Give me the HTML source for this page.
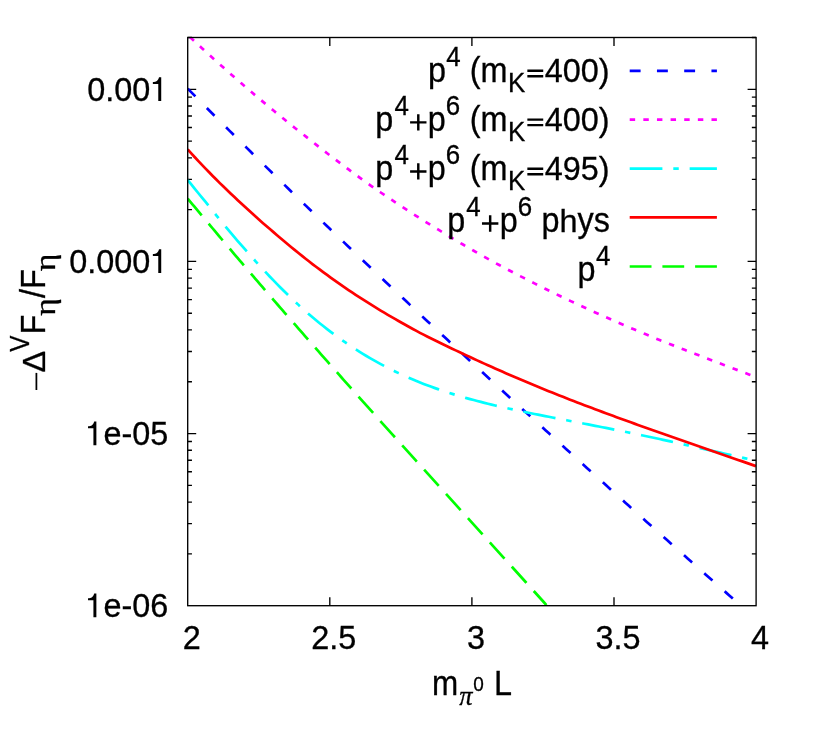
<!DOCTYPE html>
<html><head><meta charset="utf-8"><title>plot</title>
<style>html,body{margin:0;padding:0;background:#fff;}svg{display:block;will-change:transform;}text{font-family:"Liberation Sans",sans-serif;fill:#000;stroke:#000;stroke-width:0.3px;}</style></head><body>
<svg width="822" height="743" viewBox="0 0 822 743">
<defs><clipPath id="pc"><rect x="187.70" y="37.50" width="568.40" height="568.20"/></clipPath></defs>
<path d="M187.70 553.88h4.25M756.10 553.88h-4.25M187.70 523.57h4.25M756.10 523.57h-4.25M187.70 502.07h4.25M756.10 502.07h-4.25M187.70 485.39h4.25M756.10 485.39h-4.25M187.70 471.76h4.25M756.10 471.76h-4.25M187.70 460.23h4.25M756.10 460.23h-4.25M187.70 450.25h4.25M756.10 450.25h-4.25M187.70 441.45h4.25M756.10 441.45h-4.25M187.70 433.57h8.50M756.10 433.57h-8.50M187.70 381.76h4.25M756.10 381.76h-4.25M187.70 351.45h4.25M756.10 351.45h-4.25M187.70 329.94h4.25M756.10 329.94h-4.25M187.70 313.26h4.25M756.10 313.26h-4.25M187.70 299.63h4.25M756.10 299.63h-4.25M187.70 288.11h4.25M756.10 288.11h-4.25M187.70 278.12h4.25M756.10 278.12h-4.25M187.70 269.32h4.25M756.10 269.32h-4.25M187.70 261.44h8.50M756.10 261.44h-8.50M187.70 209.63h4.25M756.10 209.63h-4.25M187.70 179.32h4.25M756.10 179.32h-4.25M187.70 157.81h4.25M756.10 157.81h-4.25M187.70 141.13h4.25M756.10 141.13h-4.25M187.70 127.50h4.25M756.10 127.50h-4.25M187.70 115.98h4.25M756.10 115.98h-4.25M187.70 106.00h4.25M756.10 106.00h-4.25M187.70 97.19h4.25M756.10 97.19h-4.25M187.70 89.32h8.50M756.10 89.32h-8.50M187.70 37.50h4.25M756.10 37.50h-4.25M329.80 605.70v-8.50M329.80 37.50v8.50M471.90 605.70v-8.50M471.90 37.50v8.50M614.00 605.70v-8.50M614.00 37.50v8.50" stroke="#000" stroke-width="1.35" fill="none"/>
<g clip-path="url(#pc)" fill="none" stroke-width="2.70">
<path d="M187.70 88.58 L191.17 92.11 L194.65 95.64 L198.12 99.16 L201.59 102.68 L205.07 106.19 L208.54 109.69 L212.02 113.19 L215.49 116.68 L218.96 120.17 L222.44 123.65 L225.91 127.12 L229.38 130.59 L232.86 134.05 L236.33 137.51 L239.80 140.97 L243.28 144.41 L246.75 147.86 L250.22 151.29 L253.70 154.73 L257.17 158.15 L260.65 161.58 L264.12 164.99 L267.59 168.41 L271.07 171.82 L274.54 175.22 L278.01 178.62 L281.49 182.01 L284.96 185.40 L288.43 188.79 L291.91 192.17 L295.38 195.54 L298.85 198.92 L302.33 202.28 L305.80 205.65 L309.28 209.01 L312.75 212.36 L316.22 215.72 L319.70 219.06 L323.17 222.41 L326.64 225.75 L330.12 229.08 L333.59 232.42 L337.06 235.74 L340.54 239.07 L344.01 242.39 L347.48 245.71 L350.96 249.02 L354.43 252.33 L357.91 255.64 L361.38 258.95 L364.85 262.25 L368.33 265.54 L371.80 268.84 L375.27 272.13 L378.75 275.42 L382.22 278.70 L385.69 281.99 L389.17 285.26 L392.64 288.54 L396.12 291.81 L399.59 295.08 L403.06 298.35 L406.54 301.61 L410.01 304.88 L413.48 308.13 L416.96 311.39 L420.43 314.64 L423.90 317.89 L427.38 321.14 L430.85 324.39 L434.32 327.63 L437.80 330.87 L441.27 334.11 L444.75 337.34 L448.22 340.58 L451.69 343.81 L455.17 347.03 L458.64 350.26 L462.11 353.48 L465.59 356.70 L469.06 359.92 L472.53 363.14 L476.01 366.35 L479.48 369.57 L482.95 372.78 L486.43 375.98 L489.90 379.19 L493.38 382.39 L496.85 385.59 L500.32 388.79 L503.80 391.99 L507.27 395.18 L510.74 398.38 L514.22 401.57 L517.69 404.76 L521.16 407.94 L524.64 411.13 L528.11 414.31 L531.58 417.49 L535.06 420.67 L538.53 423.85 L542.01 427.03 L545.48 430.20 L548.95 433.37 L552.43 436.54 L555.90 439.71 L559.37 442.87 L562.85 446.04 L566.32 449.20 L569.79 452.36 L573.27 455.52 L576.74 458.67 L580.22 461.83 L583.69 464.98 L587.16 468.13 L590.64 471.28 L594.11 474.43 L597.58 477.58 L601.06 480.72 L604.53 483.86 L608.00 487.00 L611.48 490.14 L614.95 493.28 L618.42 496.41 L621.90 499.54 L625.37 502.68 L628.85 505.80 L632.32 508.93 L635.79 512.06 L639.27 515.18 L642.74 518.30 L646.21 521.42 L649.69 524.54 L653.16 527.66 L656.63 530.77 L660.11 533.88 L663.58 536.99 L667.05 540.10 L670.53 543.21 L674.00 546.31 L677.48 549.41 L680.95 552.51 L684.42 555.61 L687.90 558.71 L691.37 561.80 L694.84 564.90 L698.32 567.99 L701.79 571.07 L705.26 574.16 L708.74 577.24 L712.21 580.33 L715.68 583.40 L719.16 586.48 L722.63 589.56 L726.11 592.63 L729.58 595.70 L733.05 598.77 L736.53 601.83 L740.00 604.90" stroke="#0000ff" stroke-dasharray="10.90,16.35"/>
<path d="M187.70 34.98 L191.27 38.31 L194.85 41.63 L198.42 44.93 L202.00 48.21 L205.57 51.48 L209.15 54.73 L212.72 57.97 L216.30 61.19 L219.87 64.40 L223.45 67.59 L227.02 70.76 L230.60 73.92 L234.17 77.07 L237.75 80.20 L241.32 83.31 L244.90 86.40 L248.47 89.48 L252.05 92.55 L255.62 95.59 L259.20 98.61 L262.77 101.62 L266.35 104.61 L269.92 107.58 L273.50 110.54 L277.07 113.48 L280.65 116.41 L284.22 119.32 L287.80 122.21 L291.37 125.09 L294.95 127.95 L298.52 130.79 L302.09 133.62 L305.67 136.43 L309.24 139.27 L312.82 142.09 L316.39 144.90 L319.97 147.69 L323.54 150.47 L327.12 153.22 L330.69 155.97 L334.27 158.69 L337.84 161.40 L341.42 164.10 L344.99 166.77 L348.57 169.44 L352.14 172.09 L355.72 174.72 L359.29 177.33 L362.87 179.93 L366.44 182.51 L370.02 185.08 L373.59 187.59 L377.17 190.05 L380.74 192.50 L384.32 194.93 L387.89 197.34 L391.47 199.74 L395.04 202.12 L398.62 204.49 L402.19 206.83 L405.77 209.17 L409.34 211.48 L412.92 213.79 L416.49 216.07 L420.06 218.34 L423.64 220.60 L427.21 222.84 L430.79 225.06 L434.36 227.27 L437.94 229.46 L441.51 231.65 L445.09 233.83 L448.66 236.00 L452.24 238.15 L455.81 240.29 L459.39 242.42 L462.96 244.53 L466.54 246.62 L470.11 248.70 L473.69 250.77 L477.26 252.82 L480.84 254.85 L484.41 256.88 L487.99 258.88 L491.56 260.88 L495.14 262.86 L498.71 264.80 L502.29 266.72 L505.86 268.62 L509.44 270.51 L513.01 272.38 L516.59 274.24 L520.16 276.09 L523.74 277.92 L527.31 279.74 L530.88 281.55 L534.46 283.36 L538.03 285.17 L541.61 286.96 L545.18 288.74 L548.76 290.50 L552.33 292.26 L555.91 294.00 L559.48 295.73 L563.06 297.45 L566.63 299.15 L570.21 300.85 L573.78 302.53 L577.36 304.21 L580.93 305.87 L584.51 307.52 L588.08 309.16 L591.66 310.79 L595.23 312.41 L598.81 314.02 L602.38 315.62 L605.96 317.20 L609.53 318.78 L613.11 320.36 L616.68 321.92 L620.26 323.47 L623.83 325.01 L627.41 326.55 L630.98 328.07 L634.56 329.59 L638.13 331.10 L641.71 332.60 L645.28 334.09 L648.85 335.58 L652.43 337.06 L656.00 338.53 L659.58 339.97 L663.15 341.39 L666.73 342.81 L670.30 344.23 L673.88 345.63 L677.45 347.03 L681.03 348.43 L684.60 349.82 L688.18 351.20 L691.75 352.58 L695.33 353.95 L698.90 355.32 L702.48 356.68 L706.05 358.04 L709.63 359.42 L713.20 360.80 L716.78 362.17 L720.35 363.54 L723.93 364.91 L727.50 366.28 L731.08 367.64 L734.65 369.00 L738.23 370.35 L741.80 371.71 L745.38 373.06 L748.95 374.41 L752.53 375.76 L756.10 377.11" stroke="#ff00ff" stroke-dasharray="5.45,8.18" stroke-dashoffset="10.56"/>
<path d="M187.70 180.04 L191.27 184.47 L194.85 188.88 L198.42 193.27 L202.00 197.62 L205.57 201.95 L209.15 206.42 L212.72 210.88 L216.30 215.30 L219.87 219.69 L223.45 224.03 L227.02 228.34 L230.60 232.61 L234.17 236.83 L237.75 241.01 L241.32 245.15 L244.90 249.23 L248.47 253.27 L252.05 257.29 L255.62 261.28 L259.20 265.21 L262.77 269.09 L266.35 272.92 L269.92 276.70 L273.50 280.42 L277.07 284.09 L280.65 287.70 L284.22 291.25 L287.80 294.75 L291.37 298.18 L294.95 301.56 L298.52 304.88 L302.09 308.14 L305.67 311.35 L309.24 314.49 L312.82 317.54 L316.39 320.51 L319.97 323.43 L323.54 326.29 L327.12 329.09 L330.69 331.83 L334.27 334.51 L337.84 337.12 L341.42 339.68 L344.99 342.18 L348.57 344.63 L352.14 347.01 L355.72 349.35 L359.29 351.62 L362.87 353.83 L366.44 355.98 L370.02 358.08 L373.59 360.13 L377.17 362.13 L380.74 364.07 L384.32 365.98 L387.89 367.84 L391.47 369.66 L395.04 371.42 L398.62 373.14 L402.19 374.80 L405.77 376.43 L409.34 378.01 L412.92 379.54 L416.49 381.03 L420.06 382.48 L423.64 383.89 L427.21 385.26 L430.79 386.58 L434.36 387.88 L437.94 389.13 L441.51 390.35 L445.09 391.55 L448.66 392.72 L452.24 393.85 L455.81 394.95 L459.39 396.03 L462.96 397.07 L466.54 398.09 L470.11 399.09 L473.69 400.06 L477.26 401.01 L480.84 401.93 L484.41 402.84 L487.99 403.73 L491.56 404.60 L495.14 405.45 L498.71 406.28 L502.29 407.10 L505.86 407.91 L509.44 408.70 L513.01 409.48 L516.59 410.25 L520.16 411.01 L523.74 411.76 L527.31 412.50 L530.88 413.23 L534.46 413.96 L538.03 414.67 L541.61 415.39 L545.18 416.09 L548.76 416.80 L552.33 417.50 L555.91 418.19 L559.48 418.89 L563.06 419.58 L566.63 420.27 L570.21 420.96 L573.78 421.65 L577.36 422.34 L580.93 423.04 L584.51 423.73 L588.08 424.42 L591.66 425.12 L595.23 425.82 L598.81 426.52 L602.38 427.22 L605.96 427.93 L609.53 428.64 L613.11 429.36 L616.68 430.07 L620.26 430.80 L623.83 431.52 L627.41 432.26 L630.98 432.99 L634.56 433.73 L638.13 434.48 L641.71 435.23 L645.28 435.98 L648.85 436.74 L652.43 437.51 L656.00 438.28 L659.58 439.05 L663.15 439.83 L666.73 440.61 L670.30 441.40 L673.88 442.19 L677.45 442.98 L681.03 443.78 L684.60 444.58 L688.18 445.38 L691.75 446.19 L695.33 447.00 L698.90 447.81 L702.48 448.62 L706.05 449.43 L709.63 450.25 L713.20 451.06 L716.78 451.88 L720.35 452.69 L723.93 453.50 L727.50 454.31 L731.08 455.12 L734.65 455.92 L738.23 456.73 L741.80 457.52 L745.38 458.31 L748.95 459.10 L752.53 459.88 L756.10 460.65" stroke="#00ffff" stroke-dasharray="32.70,10.90,5.45,10.90"/>
<path d="M187.70 149.44 L191.27 153.35 L194.85 157.23 L198.42 161.06 L201.99 164.84 L205.57 168.59 L209.14 172.29 L212.72 175.95 L216.29 179.55 L219.86 183.09 L223.44 186.58 L227.01 190.04 L230.58 193.45 L234.16 196.83 L237.73 200.17 L241.30 203.49 L244.88 206.82 L248.45 210.11 L252.02 213.36 L255.60 216.58 L259.17 219.76 L262.75 222.91 L266.32 226.02 L269.89 229.10 L273.47 232.14 L277.04 235.19 L280.61 238.25 L284.19 241.27 L287.76 244.26 L291.33 247.22 L294.91 250.15 L298.48 253.04 L302.05 255.90 L305.63 258.74 L309.20 261.54 L312.78 264.31 L316.35 267.03 L319.92 269.70 L323.50 272.34 L327.07 274.96 L330.64 277.55 L334.22 280.11 L337.79 282.64 L341.36 285.15 L344.94 287.63 L348.51 290.07 L352.08 292.45 L355.66 294.80 L359.23 297.12 L362.81 299.42 L366.38 301.70 L369.95 303.95 L373.53 306.17 L377.10 308.38 L380.67 310.56 L384.25 312.70 L387.82 314.81 L391.39 316.89 L394.97 318.95 L398.54 321.00 L402.12 323.02 L405.69 325.02 L409.26 327.00 L412.84 328.96 L416.41 330.90 L419.98 332.82 L423.56 334.65 L427.13 336.47 L430.70 338.27 L434.28 340.05 L437.85 341.81 L441.42 343.56 L445.00 345.29 L448.57 347.00 L452.15 348.69 L455.72 350.37 L459.29 352.03 L462.87 353.69 L466.44 355.38 L470.01 357.06 L473.59 358.72 L477.16 360.36 L480.73 361.99 L484.31 363.61 L487.88 365.21 L491.45 366.80 L495.03 368.40 L498.60 370.00 L502.18 371.59 L505.75 373.16 L509.32 374.72 L512.90 376.27 L516.47 377.81 L520.04 379.33 L523.62 380.85 L527.19 382.35 L530.76 383.85 L534.34 385.33 L537.91 386.80 L541.48 388.27 L545.06 389.72 L548.63 391.17 L552.21 392.60 L555.78 394.03 L559.35 395.45 L562.93 396.86 L566.50 398.26 L570.07 399.65 L573.65 401.04 L577.22 402.42 L580.79 403.79 L584.37 405.15 L587.94 406.51 L591.52 407.86 L595.09 409.20 L598.66 410.54 L602.24 411.87 L605.81 413.20 L609.38 414.52 L612.96 415.84 L616.53 417.15 L620.10 418.45 L623.68 419.75 L627.25 421.05 L630.82 422.34 L634.40 423.63 L637.97 424.91 L641.55 426.19 L645.12 427.47 L648.69 428.74 L652.27 430.01 L655.84 431.28 L659.41 432.54 L662.99 433.80 L666.56 435.06 L670.13 436.31 L673.71 437.56 L677.28 438.82 L680.85 440.06 L684.43 441.31 L688.00 442.56 L691.58 443.80 L695.15 445.04 L698.72 446.29 L702.30 447.53 L705.87 448.77 L709.44 450.00 L713.02 451.24 L716.59 452.48 L720.16 453.72 L723.74 454.96 L727.31 456.19 L730.88 457.43 L734.46 458.67 L738.03 459.91 L741.61 461.14 L745.18 462.38 L748.75 463.62 L752.33 464.86 L755.90 466.10" stroke="#ff0000"/>
<path d="M187.70 198.61 L189.96 201.32 L192.21 204.02 L194.47 206.71 L196.72 209.41 L198.98 212.09 L201.24 214.78 L203.49 217.46 L205.75 220.14 L208.00 222.85 L210.26 225.55 L212.52 228.25 L214.77 230.94 L217.03 233.63 L219.28 236.32 L221.54 239.00 L223.80 241.68 L226.05 244.35 L228.31 247.03 L230.56 249.69 L232.82 252.36 L235.08 255.02 L237.33 257.68 L239.59 260.33 L241.84 262.98 L244.10 265.63 L246.36 268.27 L248.61 270.92 L250.87 273.56 L253.12 276.19 L255.38 278.83 L257.64 281.45 L259.89 284.08 L262.15 286.71 L264.40 289.33 L266.66 291.94 L268.92 294.56 L271.17 297.17 L273.43 299.78 L275.68 302.39 L277.94 304.99 L280.19 307.59 L282.45 310.19 L284.71 312.79 L286.96 315.38 L289.22 317.97 L291.47 320.56 L293.73 323.14 L295.99 325.73 L298.24 328.31 L300.50 330.88 L302.75 333.46 L305.01 336.04 L307.27 338.62 L309.52 341.19 L311.78 343.76 L314.03 346.33 L316.29 348.90 L318.55 351.46 L320.80 354.02 L323.06 356.58 L325.31 359.14 L327.57 361.70 L329.83 364.25 L332.08 366.80 L334.34 369.36 L336.59 371.90 L338.85 374.45 L341.11 377.00 L343.36 379.54 L345.62 382.08 L347.87 384.62 L350.13 387.16 L352.39 389.70 L354.64 392.23 L356.90 394.76 L359.15 397.30 L361.41 399.83 L363.67 402.36 L365.92 404.88 L368.18 407.41 L370.43 409.94 L372.69 412.46 L374.95 414.98 L377.20 417.50 L379.46 420.02 L381.71 422.54 L383.97 425.06 L386.23 427.57 L388.48 430.09 L390.74 432.60 L392.99 435.12 L395.25 437.63 L397.51 440.14 L399.76 442.65 L402.02 445.16 L404.27 447.67 L406.53 450.17 L408.79 452.68 L411.04 455.19 L413.30 457.69 L415.55 460.20 L417.81 462.70 L420.07 465.20 L422.32 467.70 L424.58 470.20 L426.83 472.71 L429.09 475.21 L431.35 477.70 L433.60 480.20 L435.86 482.70 L438.11 485.20 L440.37 487.70 L442.63 490.19 L444.88 492.69 L447.14 495.19 L449.39 497.68 L451.65 500.18 L453.91 502.67 L456.16 505.17 L458.42 507.66 L460.67 510.16 L462.93 512.65 L465.18 515.15 L467.44 517.64 L469.70 520.14 L471.95 522.63 L474.21 525.12 L476.46 527.62 L478.72 530.11 L480.98 532.60 L483.23 535.10 L485.49 537.59 L487.74 540.09 L490.00 542.58 L492.26 545.07 L494.51 547.57 L496.77 550.06 L499.02 552.56 L501.28 555.05 L503.54 557.55 L505.79 560.04 L508.05 562.54 L510.30 565.03 L512.56 567.53 L514.82 570.03 L517.07 572.52 L519.33 575.02 L521.58 577.52 L523.84 580.02 L526.10 582.51 L528.35 585.01 L530.61 587.51 L532.86 590.01 L535.12 592.51 L537.38 595.02 L539.63 597.52 L541.89 600.02 L544.14 602.52 L546.40 605.03" stroke="#00ff00" stroke-dasharray="21.80,10.90"/>
</g>
<rect x="187.70" y="37.50" width="568.40" height="568.20" fill="none" stroke="#000" stroke-width="1.35"/>
<g fill="none" stroke-width="2.70">
<path d="M629.70 70.80H716.90" stroke="#0000ff" stroke-dasharray="10.90,16.35"/>
<path d="M629.70 119.70H716.90" stroke="#ff00ff" stroke-dasharray="5.45,8.18"/>
<path d="M629.70 168.60H716.90" stroke="#00ffff" stroke-dasharray="32.70,10.90,5.45,10.90"/>
<path d="M629.70 217.40H716.90" stroke="#ff0000"/>
<path d="M629.70 266.50H716.90" stroke="#00ff00" stroke-dasharray="21.80,10.90"/>
</g>
<g transform="translate(168.40 100.92)"><text transform="translate(-81.07 0.00) scale(1.0000 1.0500)" font-size="32.40">0.00</text><path transform="translate(-18.81 0) scale(0.03240 -0.03353)" d="M268 0V505H101V566C205 570 262 604 291 709H359V0Z" fill="#000"/></g>
<g transform="translate(168.40 273.04)"><text transform="translate(-99.09 0.00) scale(1.0000 1.0500)" font-size="32.40">0.000</text><path transform="translate(-18.81 0) scale(0.03240 -0.03353)" d="M268 0V505H101V566C205 570 262 604 291 709H359V0Z" fill="#000"/></g>
<g transform="translate(168.40 445.17)"><path transform="translate(-83.66 0) scale(0.03240 -0.03353)" d="M268 0V505H101V566C205 570 262 604 291 709H359V0Z" fill="#000"/><text transform="translate(-64.85 0.00) scale(1.0000 1.0500)" font-size="32.40">e-05</text></g>
<g transform="translate(168.40 617.30)"><path transform="translate(-83.66 0) scale(0.03240 -0.03353)" d="M268 0V505H101V566C205 570 262 604 291 709H359V0Z" fill="#000"/><text transform="translate(-64.85 0.00) scale(1.0000 1.0500)" font-size="32.40">e-06</text></g>
<g transform="translate(191.70 649.10)"><text transform="translate(-9.01 0.00) scale(1.0000 1.0500)" font-size="32.40">2</text></g>
<g transform="translate(333.80 649.10)"><text transform="translate(-22.52 0.00) scale(1.0000 1.0500)" font-size="32.40">2.5</text></g>
<g transform="translate(475.90 649.10)"><text transform="translate(-9.01 0.00) scale(1.0000 1.0500)" font-size="32.40">3</text></g>
<g transform="translate(618.00 649.10)"><text transform="translate(-22.52 0.00) scale(1.0000 1.0500)" font-size="32.40">3.5</text></g>
<g transform="translate(760.10 649.10)"><text transform="translate(-9.01 0.00) scale(1.0000 1.0500)" font-size="32.40">4</text></g>
<g transform="translate(609.60 81.90)"><text transform="translate(-181.65 0.00) scale(1.0000 1.0650)" font-size="32.40">p</text><text transform="translate(-163.33 -16.20) scale(1.0000 1.0500)" font-size="25.90">4</text><text transform="translate(-139.92 0.00) scale(1.0000 1.0650)" font-size="32.40">(m</text><text transform="translate(-101.54 10.30) scale(1.0000 1.0400)" font-size="25.90">K</text><path d="M-82.25 -11.25h15.88M-82.25 -5.75h15.88" stroke="#000" stroke-width="2.45" fill="none"/><text transform="translate(-64.85 0.00) scale(1.0000 1.0500)" font-size="32.40">400)</text></g>
<g transform="translate(609.60 130.90)"><text transform="translate(-234.30 0.00) scale(1.0000 1.0650)" font-size="32.40">p</text><text transform="translate(-215.18 -16.20) scale(1.0000 1.0500)" font-size="25.90">4</text><path d="M-199.51 -8.50h16.39M-191.31 -16.69v16.39" stroke="#000" stroke-width="2.45" fill="none"/><text transform="translate(-181.85 0.00) scale(1.0000 1.0650)" font-size="32.40">p</text><text transform="translate(-163.83 -16.20) scale(1.0000 1.0500)" font-size="25.90">6</text><text transform="translate(-139.92 0.00) scale(1.0000 1.0650)" font-size="32.40">(m</text><text transform="translate(-101.54 10.30) scale(1.0000 1.0400)" font-size="25.90">K</text><path d="M-82.25 -11.25h15.88M-82.25 -5.75h15.88" stroke="#000" stroke-width="2.45" fill="none"/><text transform="translate(-64.85 0.00) scale(1.0000 1.0500)" font-size="32.40">400)</text></g>
<g transform="translate(609.60 179.90)"><text transform="translate(-234.30 0.00) scale(1.0000 1.0650)" font-size="32.40">p</text><text transform="translate(-215.18 -16.20) scale(1.0000 1.0500)" font-size="25.90">4</text><path d="M-199.51 -8.50h16.39M-191.31 -16.69v16.39" stroke="#000" stroke-width="2.45" fill="none"/><text transform="translate(-181.85 0.00) scale(1.0000 1.0650)" font-size="32.40">p</text><text transform="translate(-163.83 -16.20) scale(1.0000 1.0500)" font-size="25.90">6</text><text transform="translate(-139.92 0.00) scale(1.0000 1.0650)" font-size="32.40">(m</text><text transform="translate(-101.54 10.30) scale(1.0000 1.0400)" font-size="25.90">K</text><path d="M-82.25 -11.25h15.88M-82.25 -5.75h15.88" stroke="#000" stroke-width="2.45" fill="none"/><text transform="translate(-64.85 0.00) scale(1.0000 1.0500)" font-size="32.40">495)</text></g>
<g transform="translate(610.00 232.00)"><text transform="translate(-162.81 0.00) scale(1.0000 1.0650)" font-size="32.40">p</text><text transform="translate(-143.69 -16.20) scale(1.0000 1.0500)" font-size="25.90">4</text><path d="M-128.02 -8.50h16.39M-119.83 -16.69v16.39" stroke="#000" stroke-width="2.45" fill="none"/><text transform="translate(-110.36 0.00) scale(1.0000 1.0650)" font-size="32.40">p</text><text transform="translate(-92.35 -16.20) scale(1.0000 1.0500)" font-size="25.90">6</text><text transform="translate(-68.44 0.00) scale(1.0000 1.0650)" font-size="32.40">p</text><text transform="translate(-50.42 0.00) scale(1.0000 0.9850)" font-size="32.40">h</text><text transform="translate(-32.40 0.00) scale(1.0000 1.0650)" font-size="32.40">ys</text></g>
<g transform="translate(610.40 281.00)"><text transform="translate(-32.92 0.00) scale(1.0000 1.0650)" font-size="32.40">p</text><text transform="translate(-14.40 -16.20) scale(1.0000 1.0500)" font-size="25.90">4</text></g>
<g transform="translate(432.00 694.90)"><text transform="translate(0.00 0.00) scale(0.9700 1.0650)" font-size="32.40">m</text><text transform="translate(27.18 10.30) scale(1.0000 1.0650)" font-size="26.50" font-style="italic" style="font-family:'Liberation Serif',serif">π</text><text transform="translate(41.36 -3.50) scale(1.0000 1.0650)" font-size="19.00">0</text><text transform="translate(62.02 0.00) scale(1.0000 1.0650)" font-size="32.40">L</text></g>
<g transform="translate(45.00 390.40) rotate(-90)"><path d="M0.40 -8.60h17.10" stroke="#000" stroke-width="1.75" fill="none"/><text transform="translate(17.79 0.00) scale(1.0000 0.9680)" font-size="32.40">Δ</text><text transform="translate(38.63 -16.20) scale(0.9400 1.0650)" font-size="25.90">V</text><text transform="translate(55.82 0.00) scale(1.0000 1.0650)" font-size="32.40">F</text><text transform="translate(74.71 10.30) scale(1.2500 1.0650)" font-size="27.00" style="font-family:'Liberation Serif',serif">η</text><text transform="translate(92.46 0.00) scale(1.0000 1.0650)" font-size="32.40">/F</text><text transform="translate(119.25 10.30) scale(1.2500 1.0650)" font-size="27.00" style="font-family:'Liberation Serif',serif">η</text></g>
</svg></body></html>
